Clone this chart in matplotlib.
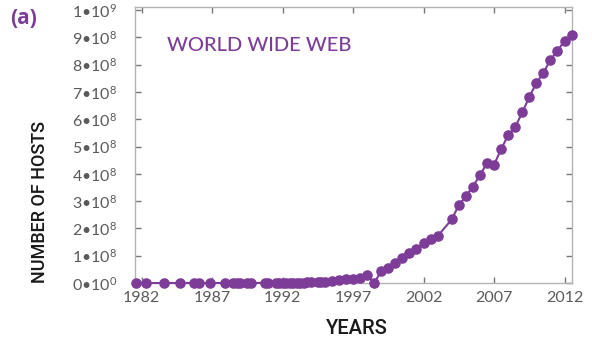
import matplotlib
matplotlib.use("Agg")
import matplotlib.pyplot as plt
from matplotlib.ticker import FixedLocator, FuncFormatter

# Internet host counts (survey dates as year, month)
survey_year = [1981, 1982, 1983, 1984, 1985, 1986, 1986, 1987, 1988, 1988,
               1989, 1989, 1989, 1990, 1991, 1991, 1991, 1992, 1992, 1992,
               1992, 1993, 1993, 1993, 1993, 1994, 1994, 1994, 1995, 1995,
               1996, 1996, 1997, 1997, 1998, 1998, 1999, 1999, 2000, 2000,
               2001, 2001, 2002, 2002, 2003, 2004, 2004, 2005, 2005, 2006,
               2006, 2007, 2007, 2008, 2008, 2009, 2009, 2010, 2010, 2011,
               2011, 2012, 2012]
survey_month = [8, 5, 8, 10, 10, 2, 11, 12, 7, 10,
                1, 7, 10, 10, 1, 7, 10, 1, 4, 7,
                10, 1, 4, 7, 10, 1, 7, 10, 1, 7,
                1, 7, 1, 7, 1, 7, 1, 7, 1, 7,
                1, 7, 1, 7, 1, 1, 7, 1, 7, 1,
                7, 1, 7, 1, 7, 1, 7, 1, 7, 1,
                7, 1, 7]
hosts = [213, 235, 562, 1024, 1961, 2308, 5089, 28174, 33000, 56000,
         80000, 130000, 159000, 313000, 376000, 535000, 617000, 727000, 890000, 992000,
         1136000, 1313000, 1486000, 1776000, 2056000, 2217000, 3212000, 3864000, 4852000, 6642000,
         9472000, 12881000, 16146000, 19540000, 29670000, 0, 43230000, 56218000, 72398092, 93047785,
         109574429, 125888197, 147344723, 162128493, 171638297, 233101481, 285139107, 317646084, 353284187, 394991609,
         439286364, 433193199, 489774269, 541677360, 570937778, 625226456, 681064561, 732740444, 768913036, 818374269,
         849869781, 888239420, 908585739]

year_ticks = [1982, 1987, 1992, 1997, 2002, 2007, 2012]
host_ticks = [0, 1e8, 2e8, 3e8, 4e8, 5e8, 6e8, 7e8, 8e8, 9e8, 1e9]

purple = "#7d3c98"
grey_axis = "#b3b3b3"
grey_text = "#5a5a5a"

plt.rcParams["font.family"] = ["Lato", "DejaVu Sans"]
plt.rcParams["mathtext.fontset"] = "custom"
plt.rcParams["mathtext.rm"] = "Lato"
plt.rcParams["mathtext.it"] = "Lato"
plt.rcParams["mathtext.bf"] = "Lato:bold"

t = [y + (m - 1) / 12.0 for y, m in zip(survey_year, survey_month)]

fig = plt.figure(figsize=(5.92, 3.42), dpi=100)
ax = fig.add_axes([0.228, 0.1725, 0.738, 0.807])

ax.plot(t, hosts, color=purple, lw=1.5, marker="o", markersize=6.6,
        markerfacecolor=purple, markeredgecolor=purple, zorder=3, clip_on=False)

ax.set_xlim(t[0] - 0.05, t[-1] + 0.02)
ax.set_ylim(0, 1.011e9)

for s in ax.spines.values():
    s.set_color(grey_axis)
    s.set_linewidth(1.0)

ax.xaxis.set_major_locator(FixedLocator(year_ticks))
ax.yaxis.set_major_locator(FixedLocator(host_ticks))


def sci_label(v, pos):
    if v == 0:
        return r"0•10$^{\mathrm{0}}$"
    exp = 0
    m = v
    while m >= 10:
        m /= 10.0
        exp += 1
    return r"%d•10$^{\mathrm{%d}}$" % (round(m), exp)


ax.yaxis.set_major_formatter(FuncFormatter(sci_label))

ax.tick_params(axis="both", which="major", direction="in", length=4,
               width=1.0, color="#777777", top=True, right=True,
               labelcolor=grey_text, labelsize=11.5)
ax.tick_params(axis="y", pad=13)
ax.tick_params(axis="x", pad=6)

label_font = ["Roboto", "DejaVu Sans"]
fig.text(0.068, 0.41, "NUMBER OF HOSTS", rotation=90, ha="center", va="center",
         fontsize=13, color="#1a1a1a", fontweight="medium", family=label_font)
fig.text(0.602, 0.04, "YEARS", ha="center", va="center",
         fontsize=14.5, color="#1a1a1a", fontweight="medium", family=label_font)
fig.text(0.017, 0.945, "(a)", ha="left", va="center",
         fontsize=15, color=purple, fontweight="bold",
         family=["Open Sans", "DejaVu Sans"])
fig.text(0.282, 0.868, "WORLD WIDE WEB", ha="left", va="center",
         fontsize=14.5, color=purple, fontweight="medium")

fig.savefig("out.png", dpi=100)
